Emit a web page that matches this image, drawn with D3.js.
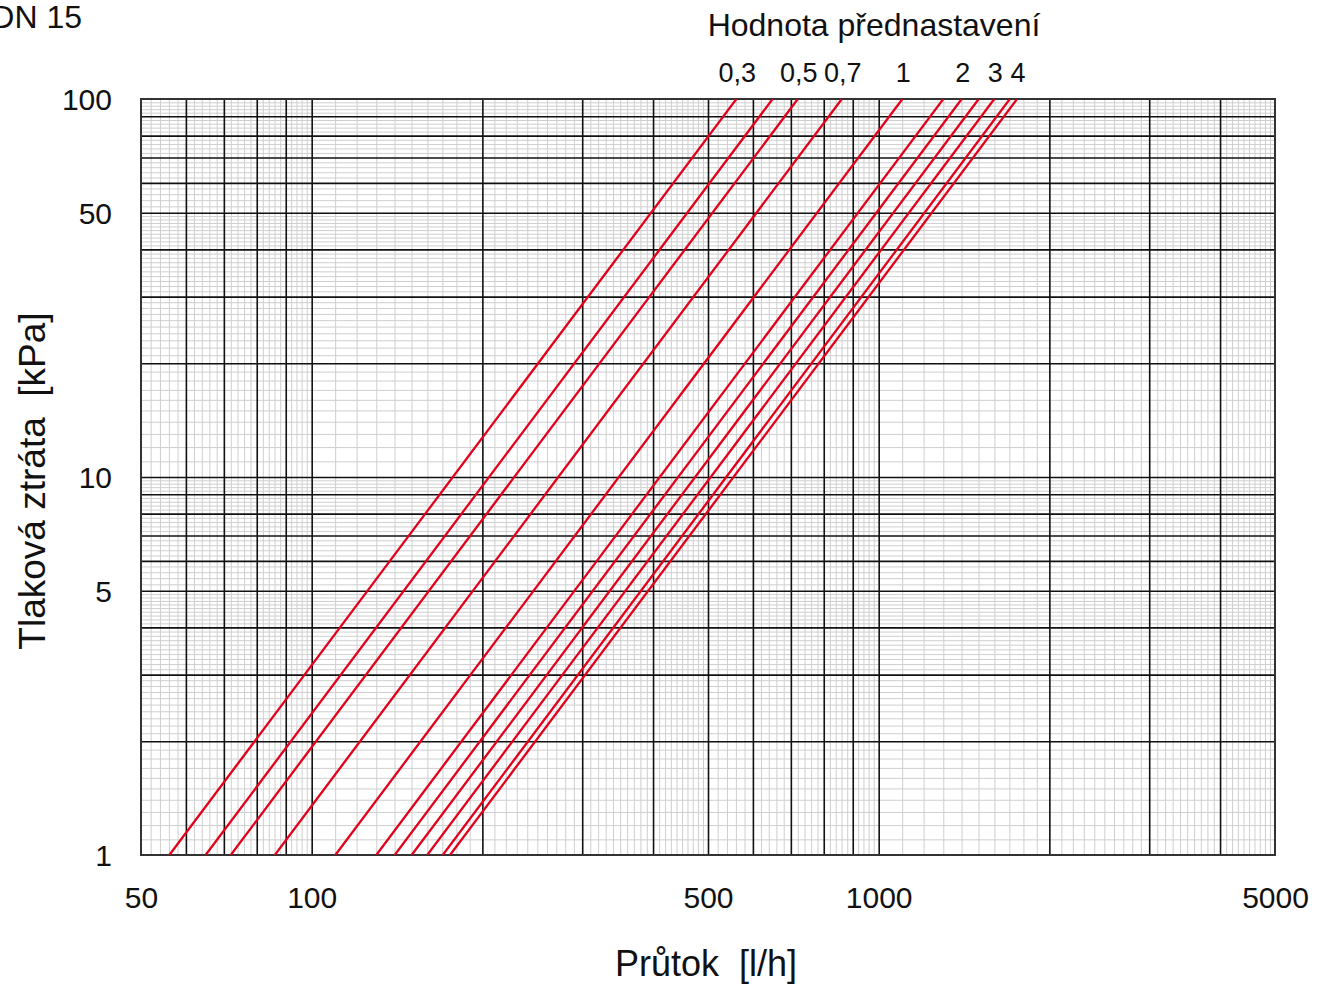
<!DOCTYPE html>
<html>
<head>
<meta charset="utf-8">
<script src="https://cdn.jsdelivr.net/npm/d3@7"></script>
<style>
  body { margin: 0; background: #fff; }
  svg text { font-family: "Liberation Sans", Arial, sans-serif; fill: #111; white-space: pre; }
</style>
</head>
<body>
<svg id="chart" width="1319" height="984"></svg>
<script>
// kv values (m3/h) of each presetting curve
const kvValues = [0.561, 0.650, 0.720, 0.861, 1.101, 1.300, 1.401, 1.501, 1.599, 1.703, 1.754];
// presetting labels shown above the curves ('' = no label)
const settingLabels = ['0,3', '', '0,5', '0,7', '1', '', '2', '', '3', '', '4'];
const xTicks = [50, 100, 500, 1000, 5000];
const yTicks = [1, 5, 10, 50, 100];
const dpRange = [1, 100]; // kPa

const svg = d3.select('#chart');
const mLeft = 141, mRight = 1275, mTop = 99, mBottom = 855;

const x = d3.scaleLog().domain([50, 5000]).range([mLeft, mRight]);
const y = d3.scaleLog().domain([1, 100]).range([mBottom, mTop]);

// flow in l/h for a given kv and pressure drop in kPa
const flow = (kv, dp) => kv * 1000 * Math.sqrt(dp / 100);

// grid values: 1..5 step 0.1, 5..10 step 0.2 in every decade
function majorValues() {
  const out = [];
  for (let d = 1; d <= 1000; d *= 10)
    for (let i = 1; i < 10; i++) out.push(d * i);
  return out;
}
function minorValues() {
  const major = new Set(majorValues());
  const out = [];
  for (let d = 1; d <= 1000; d *= 10) {
    for (let i = 10; i < 50; i++) out.push(Math.round(d * i) / 10);
    for (let i = 50; i < 100; i += 2) out.push(Math.round(d * i) / 10);
  }
  return out.filter(v => !major.has(v));
}

function grid(values, color, width) {
  svg.append('g')
    .attr('transform', `translate(0,${mBottom})`)
    .call(d3.axisBottom(x).tickValues(values.filter(v => v > 50 && v < 5000)).tickSize(-(mBottom - mTop)).tickFormat(''))
    .call(g => g.select('.domain').remove())
    .call(g => g.selectAll('line').attr('stroke', color).attr('stroke-width', width));
  svg.append('g')
    .attr('transform', `translate(${mLeft},0)`)
    .call(d3.axisLeft(y).tickValues(values.filter(v => v > 1 && v < 100)).tickSize(-(mRight - mLeft)).tickFormat(''))
    .call(g => g.select('.domain').remove())
    .call(g => g.selectAll('line').attr('stroke', color).attr('stroke-width', width));
}

grid(minorValues(), '#cfcfcf', 1);
grid(majorValues(), '#111', 1.6);

svg.append('rect')
  .attr('x', mLeft).attr('y', mTop)
  .attr('width', mRight - mLeft).attr('height', mBottom - mTop)
  .attr('fill', 'none').attr('stroke', '#333').attr('stroke-width', 2);

// curves
svg.append('clipPath').attr('id', 'plot')
  .append('rect').attr('x', mLeft).attr('y', mTop).attr('width', mRight - mLeft).attr('height', mBottom - mTop);

const line = d3.line()
  .x(d => x(d.q))
  .y(d => y(d.dp));

svg.append('g').attr('clip-path', 'url(#plot)')
  .selectAll('path')
  .data(kvValues)
  .join('path')
  .attr('d', kv => line(dpRange.map(dp => ({ q: flow(kv, dp), dp }))))
  .attr('fill', 'none')
  .attr('stroke', '#e3001b')
  .attr('stroke-width', 2.3);

// presetting labels
svg.append('g')
  .selectAll('text')
  .data(kvValues.map((kv, i) => ({ kv, label: settingLabels[i] })).filter(d => d.label))
  .join('text')
  .attr('x', d => x(flow(d.kv, 100)) + 1)
  .attr('y', 82)
  .attr('text-anchor', 'middle')
  .attr('font-size', 27)
  .text(d => d.label);

svg.append('text')
  .attr('x', 874).attr('y', 36)
  .attr('text-anchor', 'middle')
  .attr('font-size', 32)
  .text('Hodnota přednastavení');

svg.append('text')
  .attr('x', 82).attr('y', 28)
  .attr('text-anchor', 'end')
  .attr('font-size', 32)
  .text('DN 15');

// tick labels
svg.append('g')
  .attr('transform', `translate(0,${mBottom})`)
  .call(d3.axisBottom(x).tickValues(xTicks).tickSize(0).tickFormat(d3.format('d')))
  .call(g => g.select('.domain').remove())
  .call(g => g.selectAll('text').attr('y', 53).attr('dy', 0).attr('font-size', 30).attr('fill', '#111'));

svg.append('g')
  .attr('transform', `translate(${mLeft},0)`)
  .call(d3.axisLeft(y).tickValues(yTicks).tickSize(0).tickFormat(d3.format('d')))
  .call(g => g.select('.domain').remove())
  .call(g => g.selectAll('text').attr('x', -29).attr('dy', '0.36em').attr('font-size', 30).attr('fill', '#111'));

// axis titles
svg.append('text')
  .attr('x', 706).attr('y', 976)
  .attr('text-anchor', 'middle')
  .attr('font-size', 36)
  .text('Průtok  [l/h]');

svg.append('text')
  .attr('transform', 'translate(45,481) rotate(-90)')
  .attr('text-anchor', 'middle')
  .attr('font-size', 37)
  .text('Tlaková ztráta  [kPa]');
</script>
</body>
</html>
